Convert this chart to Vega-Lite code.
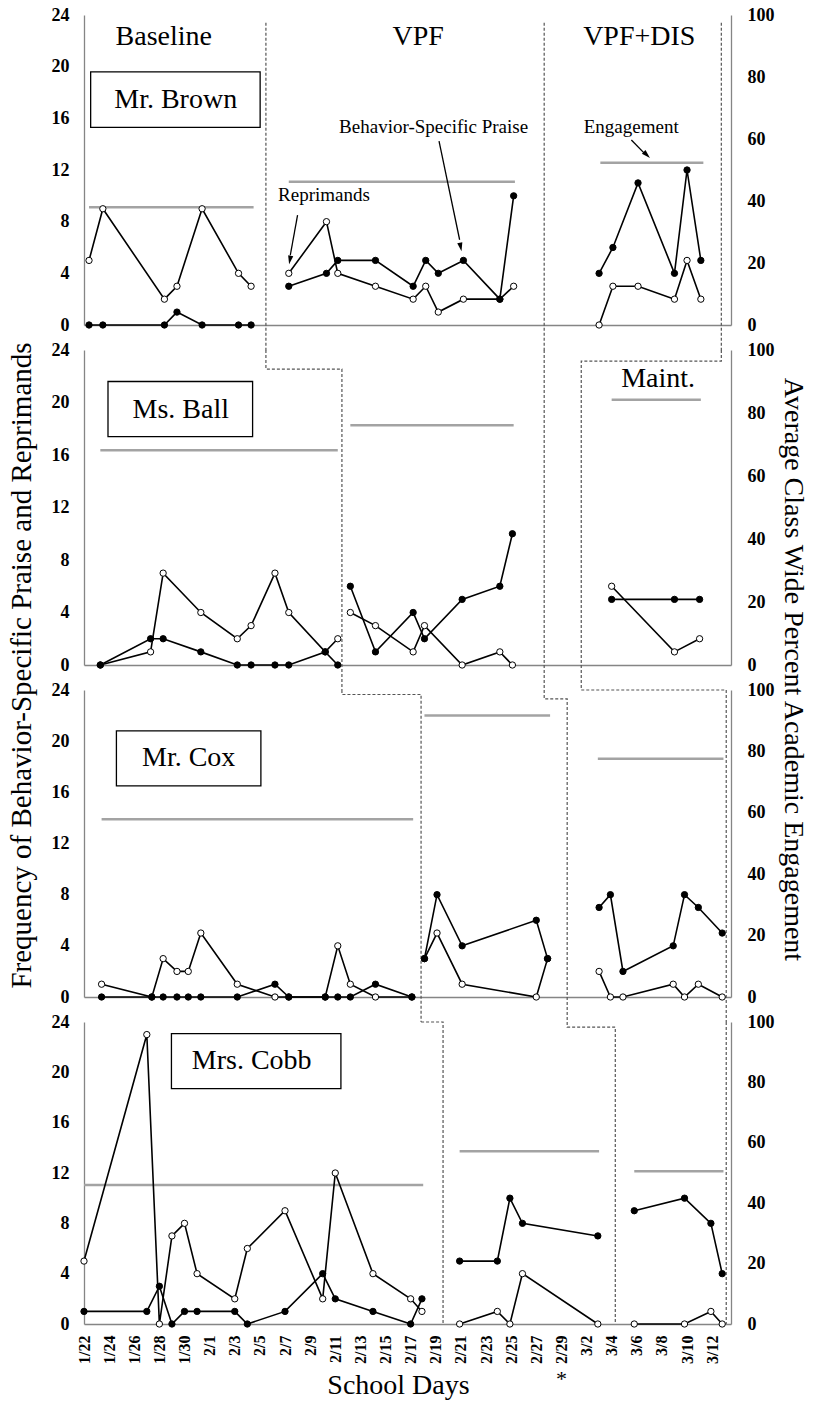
{
  "$schema": "https://vega.github.io/schema/vega-lite/v6.json",
  "background": "white",
  "padding": {"left": 6, "top": 6, "right": 4, "bottom": 0},
  "bounds": "flush",
  "spacing": 25,
  "config": {
    "view": {"stroke": null},
    "axis": {"grid": false, "ticks": false, "domainColor": "#858585", "domainWidth": 1.3, "labelFont": "Liberation Serif", "labelFontWeight": "bold", "labelColor": "black", "labelFontSize": 18, "titleFont": "Liberation Serif", "titleFontWeight": "normal", "titleColor": "black", "labelOverlap": false},
    "axisX": {"labels": false, "title": null, "labelOverlap": false, "labelAngle": -90, "labelFontSize": 16, "labelPadding": 11, "labelFlush": false, "values": [0,2,4,6,8,10,12,14,16,18,20,22,24,26,28,30,32,34,36,38,40,42,44,46,48,50], "labelExpr": "['1/22','1/24','1/26','1/28','1/30','2/1','2/3','2/5','2/7','2/9','2/11','2/13','2/15','2/17','2/19','2/21','2/23','2/25','2/27','2/29','3/2','3/4','3/6','3/8','3/10','3/12'][round(datum.value/2)]"},
    "text": {"font": "Liberation Serif", "color": "black"}
  },
  "datasets": {
    "pts": [
      {"t":"Brown","p":"BL","s":"R","d":0.4,"v":5},{"t":"Brown","p":"BL","s":"R","d":1.5,"v":9},{"t":"Brown","p":"BL","s":"R","d":6.4,"v":2},{"t":"Brown","p":"BL","s":"R","d":7.4,"v":3},{"t":"Brown","p":"BL","s":"R","d":9.4,"v":9},{"t":"Brown","p":"BL","s":"R","d":12.3,"v":4},{"t":"Brown","p":"BL","s":"R","d":13.3,"v":3},
      {"t":"Brown","p":"BL","s":"B","d":0.4,"v":0},{"t":"Brown","p":"BL","s":"B","d":1.5,"v":0},{"t":"Brown","p":"BL","s":"B","d":6.4,"v":0},{"t":"Brown","p":"BL","s":"B","d":7.4,"v":1},{"t":"Brown","p":"BL","s":"B","d":9.4,"v":0},{"t":"Brown","p":"BL","s":"B","d":12.3,"v":0},{"t":"Brown","p":"BL","s":"B","d":13.3,"v":0},
      {"t":"Brown","p":"VPF","s":"R","d":16.3,"v":4},{"t":"Brown","p":"VPF","s":"R","d":19.3,"v":8},{"t":"Brown","p":"VPF","s":"R","d":20.2,"v":4},{"t":"Brown","p":"VPF","s":"R","d":23.2,"v":3},{"t":"Brown","p":"VPF","s":"R","d":26.2,"v":2},{"t":"Brown","p":"VPF","s":"R","d":27.2,"v":3},{"t":"Brown","p":"VPF","s":"R","d":28.2,"v":1},{"t":"Brown","p":"VPF","s":"R","d":30.2,"v":2},{"t":"Brown","p":"VPF","s":"R","d":33.1,"v":2},{"t":"Brown","p":"VPF","s":"R","d":34.2,"v":3},
      {"t":"Brown","p":"VPF","s":"B","d":16.3,"v":3},{"t":"Brown","p":"VPF","s":"B","d":19.3,"v":4},{"t":"Brown","p":"VPF","s":"B","d":20.2,"v":5},{"t":"Brown","p":"VPF","s":"B","d":23.2,"v":5},{"t":"Brown","p":"VPF","s":"B","d":26.2,"v":3},{"t":"Brown","p":"VPF","s":"B","d":27.2,"v":5},{"t":"Brown","p":"VPF","s":"B","d":28.2,"v":4},{"t":"Brown","p":"VPF","s":"B","d":30.2,"v":5},{"t":"Brown","p":"VPF","s":"B","d":33.1,"v":2},{"t":"Brown","p":"VPF","s":"B","d":34.2,"v":10},
      {"t":"Brown","p":"DIS","s":"R","d":41.0,"v":0},{"t":"Brown","p":"DIS","s":"R","d":42.1,"v":3},{"t":"Brown","p":"DIS","s":"R","d":44.1,"v":3},{"t":"Brown","p":"DIS","s":"R","d":47.0,"v":2},{"t":"Brown","p":"DIS","s":"R","d":48.0,"v":5},{"t":"Brown","p":"DIS","s":"R","d":49.1,"v":2},
      {"t":"Brown","p":"DIS","s":"B","d":41.0,"v":4},{"t":"Brown","p":"DIS","s":"B","d":42.1,"v":6},{"t":"Brown","p":"DIS","s":"B","d":44.1,"v":11},{"t":"Brown","p":"DIS","s":"B","d":47.0,"v":4},{"t":"Brown","p":"DIS","s":"B","d":48.0,"v":12},{"t":"Brown","p":"DIS","s":"B","d":49.1,"v":5},
      {"t":"Ball","p":"BL","s":"R","d":1.3,"v":0},{"t":"Ball","p":"BL","s":"R","d":5.3,"v":1},{"t":"Ball","p":"BL","s":"R","d":6.3,"v":7},{"t":"Ball","p":"BL","s":"R","d":9.3,"v":4},{"t":"Ball","p":"BL","s":"R","d":12.2,"v":2},{"t":"Ball","p":"BL","s":"R","d":13.3,"v":3},{"t":"Ball","p":"BL","s":"R","d":15.2,"v":7},{"t":"Ball","p":"BL","s":"R","d":16.3,"v":4},{"t":"Ball","p":"BL","s":"R","d":19.2,"v":1},{"t":"Ball","p":"BL","s":"R","d":20.2,"v":2},
      {"t":"Ball","p":"BL","s":"B","d":1.3,"v":0},{"t":"Ball","p":"BL","s":"B","d":5.3,"v":2},{"t":"Ball","p":"BL","s":"B","d":6.3,"v":2},{"t":"Ball","p":"BL","s":"B","d":9.3,"v":1},{"t":"Ball","p":"BL","s":"B","d":12.2,"v":0},{"t":"Ball","p":"BL","s":"B","d":13.3,"v":0},{"t":"Ball","p":"BL","s":"B","d":15.2,"v":0},{"t":"Ball","p":"BL","s":"B","d":16.3,"v":0},{"t":"Ball","p":"BL","s":"B","d":19.2,"v":1},{"t":"Ball","p":"BL","s":"B","d":20.2,"v":0},
      {"t":"Ball","p":"VPF","s":"R","d":21.2,"v":4},{"t":"Ball","p":"VPF","s":"R","d":23.2,"v":3},{"t":"Ball","p":"VPF","s":"R","d":26.2,"v":1},{"t":"Ball","p":"VPF","s":"R","d":27.1,"v":3},{"t":"Ball","p":"VPF","s":"R","d":30.1,"v":0},{"t":"Ball","p":"VPF","s":"R","d":33.1,"v":1},{"t":"Ball","p":"VPF","s":"R","d":34.1,"v":0},
      {"t":"Ball","p":"VPF","s":"B","d":21.2,"v":6},{"t":"Ball","p":"VPF","s":"B","d":23.2,"v":1},{"t":"Ball","p":"VPF","s":"B","d":26.2,"v":4},{"t":"Ball","p":"VPF","s":"B","d":27.1,"v":2},{"t":"Ball","p":"VPF","s":"B","d":30.1,"v":5},{"t":"Ball","p":"VPF","s":"B","d":33.1,"v":6},{"t":"Ball","p":"VPF","s":"B","d":34.1,"v":10},
      {"t":"Ball","p":"MA","s":"R","d":42.0,"v":6},{"t":"Ball","p":"MA","s":"R","d":47.0,"v":1},{"t":"Ball","p":"MA","s":"R","d":49.0,"v":2},
      {"t":"Ball","p":"MA","s":"B","d":42.0,"v":5},{"t":"Ball","p":"MA","s":"B","d":47.0,"v":5},{"t":"Ball","p":"MA","s":"B","d":49.0,"v":5},
      {"t":"Cox","p":"BL","s":"R","d":1.4,"v":1},{"t":"Cox","p":"BL","s":"R","d":5.4,"v":0},{"t":"Cox","p":"BL","s":"R","d":6.3,"v":3},{"t":"Cox","p":"BL","s":"R","d":7.4,"v":2},{"t":"Cox","p":"BL","s":"R","d":8.3,"v":2},{"t":"Cox","p":"BL","s":"R","d":9.3,"v":5},{"t":"Cox","p":"BL","s":"R","d":12.2,"v":1},{"t":"Cox","p":"BL","s":"R","d":15.2,"v":0},{"t":"Cox","p":"BL","s":"R","d":16.3,"v":0},{"t":"Cox","p":"BL","s":"R","d":19.2,"v":0},{"t":"Cox","p":"BL","s":"R","d":20.2,"v":4},{"t":"Cox","p":"BL","s":"R","d":21.2,"v":1},{"t":"Cox","p":"BL","s":"R","d":23.2,"v":0},{"t":"Cox","p":"BL","s":"R","d":26.1,"v":0},
      {"t":"Cox","p":"BL","s":"B","d":1.4,"v":0},{"t":"Cox","p":"BL","s":"B","d":5.4,"v":0},{"t":"Cox","p":"BL","s":"B","d":6.3,"v":0},{"t":"Cox","p":"BL","s":"B","d":7.4,"v":0},{"t":"Cox","p":"BL","s":"B","d":8.3,"v":0},{"t":"Cox","p":"BL","s":"B","d":9.3,"v":0},{"t":"Cox","p":"BL","s":"B","d":12.2,"v":0},{"t":"Cox","p":"BL","s":"B","d":15.2,"v":1},{"t":"Cox","p":"BL","s":"B","d":16.3,"v":0},{"t":"Cox","p":"BL","s":"B","d":19.2,"v":0},{"t":"Cox","p":"BL","s":"B","d":20.2,"v":0},{"t":"Cox","p":"BL","s":"B","d":21.2,"v":0},{"t":"Cox","p":"BL","s":"B","d":23.2,"v":1},{"t":"Cox","p":"BL","s":"B","d":26.1,"v":0},
      {"t":"Cox","p":"VPF","s":"R","d":27.1,"v":3},{"t":"Cox","p":"VPF","s":"R","d":28.1,"v":5},{"t":"Cox","p":"VPF","s":"R","d":30.1,"v":1},{"t":"Cox","p":"VPF","s":"R","d":36.0,"v":0},{"t":"Cox","p":"VPF","s":"R","d":36.9,"v":3},
      {"t":"Cox","p":"VPF","s":"B","d":27.1,"v":3},{"t":"Cox","p":"VPF","s":"B","d":28.1,"v":8},{"t":"Cox","p":"VPF","s":"B","d":30.1,"v":4},{"t":"Cox","p":"VPF","s":"B","d":36.0,"v":6},{"t":"Cox","p":"VPF","s":"B","d":36.9,"v":3},
      {"t":"Cox","p":"DIS","s":"R","d":41.0,"v":2},{"t":"Cox","p":"DIS","s":"R","d":41.9,"v":0},{"t":"Cox","p":"DIS","s":"R","d":42.9,"v":0},{"t":"Cox","p":"DIS","s":"R","d":46.9,"v":1},{"t":"Cox","p":"DIS","s":"R","d":47.8,"v":0},{"t":"Cox","p":"DIS","s":"R","d":48.9,"v":1},{"t":"Cox","p":"DIS","s":"R","d":50.8,"v":0},
      {"t":"Cox","p":"DIS","s":"B","d":41.0,"v":7},{"t":"Cox","p":"DIS","s":"B","d":41.9,"v":8},{"t":"Cox","p":"DIS","s":"B","d":42.9,"v":2},{"t":"Cox","p":"DIS","s":"B","d":46.9,"v":4},{"t":"Cox","p":"DIS","s":"B","d":47.8,"v":8},{"t":"Cox","p":"DIS","s":"B","d":48.9,"v":7},{"t":"Cox","p":"DIS","s":"B","d":50.8,"v":5},
      {"t":"Cobb","p":"BL","s":"R","d":0,"v":5},{"t":"Cobb","p":"BL","s":"R","d":5,"v":23},{"t":"Cobb","p":"BL","s":"R","d":6,"v":0},{"t":"Cobb","p":"BL","s":"R","d":7,"v":7},{"t":"Cobb","p":"BL","s":"R","d":8,"v":8},{"t":"Cobb","p":"BL","s":"R","d":9,"v":4},{"t":"Cobb","p":"BL","s":"R","d":12,"v":2},{"t":"Cobb","p":"BL","s":"R","d":13,"v":6},{"t":"Cobb","p":"BL","s":"R","d":16,"v":9},{"t":"Cobb","p":"BL","s":"R","d":19,"v":2},{"t":"Cobb","p":"BL","s":"R","d":20,"v":12},{"t":"Cobb","p":"BL","s":"R","d":23,"v":4},{"t":"Cobb","p":"BL","s":"R","d":26,"v":2},{"t":"Cobb","p":"BL","s":"R","d":26.9,"v":1},
      {"t":"Cobb","p":"BL","s":"B","d":0,"v":1},{"t":"Cobb","p":"BL","s":"B","d":5,"v":1},{"t":"Cobb","p":"BL","s":"B","d":6,"v":3},{"t":"Cobb","p":"BL","s":"B","d":7,"v":0},{"t":"Cobb","p":"BL","s":"B","d":8,"v":1},{"t":"Cobb","p":"BL","s":"B","d":9,"v":1},{"t":"Cobb","p":"BL","s":"B","d":12,"v":1},{"t":"Cobb","p":"BL","s":"B","d":13,"v":0},{"t":"Cobb","p":"BL","s":"B","d":16,"v":1},{"t":"Cobb","p":"BL","s":"B","d":19,"v":4},{"t":"Cobb","p":"BL","s":"B","d":20,"v":2},{"t":"Cobb","p":"BL","s":"B","d":23,"v":1},{"t":"Cobb","p":"BL","s":"B","d":26,"v":0},{"t":"Cobb","p":"BL","s":"B","d":26.9,"v":2},
      {"t":"Cobb","p":"VPF","s":"R","d":29.9,"v":0},{"t":"Cobb","p":"VPF","s":"R","d":32.9,"v":1},{"t":"Cobb","p":"VPF","s":"R","d":33.9,"v":0},{"t":"Cobb","p":"VPF","s":"R","d":34.9,"v":4},{"t":"Cobb","p":"VPF","s":"R","d":40.9,"v":0},
      {"t":"Cobb","p":"VPF","s":"B","d":29.9,"v":5},{"t":"Cobb","p":"VPF","s":"B","d":32.9,"v":5},{"t":"Cobb","p":"VPF","s":"B","d":33.9,"v":10},{"t":"Cobb","p":"VPF","s":"B","d":34.9,"v":8},{"t":"Cobb","p":"VPF","s":"B","d":40.9,"v":7},
      {"t":"Cobb","p":"DIS","s":"R","d":43.8,"v":0},{"t":"Cobb","p":"DIS","s":"R","d":47.8,"v":0},{"t":"Cobb","p":"DIS","s":"R","d":49.9,"v":1},{"t":"Cobb","p":"DIS","s":"R","d":50.8,"v":0},
      {"t":"Cobb","p":"DIS","s":"B","d":43.8,"v":9},{"t":"Cobb","p":"DIS","s":"B","d":47.8,"v":10},{"t":"Cobb","p":"DIS","s":"B","d":49.9,"v":8},{"t":"Cobb","p":"DIS","s":"B","d":50.8,"v":4}
    ],
    "eng": [
      {"t":"Brown","d1":0.4,"d2":13.5,"e":38},{"t":"Brown","d1":16.3,"d2":34.3,"e":46.2},{"t":"Brown","d1":41.1,"d2":49.3,"e":52.3},
      {"t":"Ball","d1":1.3,"d2":20.2,"e":68.2},{"t":"Ball","d1":21.2,"d2":34.2,"e":76.1},{"t":"Ball","d1":42.0,"d2":49.1,"e":84.2},
      {"t":"Cox","d1":1.4,"d2":26.2,"e":57.9},{"t":"Cox","d1":27.1,"d2":37.1,"e":91.7},{"t":"Cox","d1":40.9,"d2":50.9,"e":77.6},
      {"t":"Cobb","d1":0,"d2":27,"e":46},{"t":"Cobb","d1":29.9,"d2":41,"e":57.2},{"t":"Cobb","d1":43.8,"d2":50.9,"e":50.6}
    ],
    "dash": [
      {"t":"Brown","id":"A","o":0,"d":14.48,"y":23.4},{"t":"Brown","id":"A","o":1,"d":14.48,"y":-1.95},
      {"t":"Brown","id":"B","o":0,"d":36.63,"y":23.4},{"t":"Brown","id":"B","o":1,"d":36.63,"y":-1.95},
      {"t":"Brown","id":"C","o":0,"d":50.73,"y":23.4},{"t":"Brown","id":"C","o":1,"d":50.73,"y":-1.95},
      {"t":"Ball","id":"A","o":0,"d":14.48,"y":24},{"t":"Ball","id":"A","o":1,"d":14.48,"y":22.55},{"t":"Ball","id":"A","o":2,"d":20.53,"y":22.55},{"t":"Ball","id":"A","o":3,"d":20.53,"y":-1.9},
      {"t":"Ball","id":"B","o":0,"d":36.63,"y":24},{"t":"Ball","id":"B","o":1,"d":36.63,"y":-1.9},
      {"t":"Ball","id":"C","o":0,"d":50.73,"y":24},{"t":"Ball","id":"C","o":1,"d":50.73,"y":23.16},{"t":"Ball","id":"C","o":2,"d":39.58,"y":23.16},{"t":"Ball","id":"C","o":3,"d":39.58,"y":-1.9},
      {"t":"Cox","id":"A","o":0,"d":20.53,"y":24},{"t":"Cox","id":"A","o":1,"d":20.53,"y":23.65},{"t":"Cox","id":"A","o":2,"d":26.83,"y":23.65},{"t":"Cox","id":"A","o":3,"d":26.83,"y":-1.95},
      {"t":"Cox","id":"B","o":0,"d":36.63,"y":24},{"t":"Cox","id":"B","o":1,"d":36.63,"y":23.3},{"t":"Cox","id":"B","o":2,"d":38.46,"y":23.3},{"t":"Cox","id":"B","o":3,"d":38.46,"y":-1.95},
      {"t":"Cox","id":"C","o":0,"d":39.58,"y":24},{"t":"Cox","id":"C","o":1,"d":51.12,"y":24},{"t":"Cox","id":"C","o":2,"d":51.12,"y":-1.95},
      {"t":"Cobb","id":"A","o":0,"d":26.83,"y":24},{"t":"Cobb","id":"A","o":1,"d":28.58,"y":24},{"t":"Cobb","id":"A","o":2,"d":28.58,"y":0},
      {"t":"Cobb","id":"B","o":0,"d":38.46,"y":24},{"t":"Cobb","id":"B","o":1,"d":38.46,"y":23.6},{"t":"Cobb","id":"B","o":2,"d":42.29,"y":23.6},{"t":"Cobb","id":"B","o":3,"d":42.29,"y":0},
      {"t":"Cobb","id":"C","o":0,"d":51.12,"y":24},{"t":"Cobb","id":"C","o":1,"d":51.12,"y":0}
    ],
    "box": [
      {"t":"Brown","d1":0.53,"d2":14.02,"y1":15.3,"y2":19.6},
      {"t":"Ball","d1":1.91,"d2":13.42,"y1":17.4,"y2":21.6},
      {"t":"Cox","d1":2.58,"d2":14.08,"y1":16.5,"y2":20.8},
      {"t":"Cobb","d1":6.96,"d2":20.45,"y1":18.7,"y2":23.07}
    ],
    "ann": [
      {"t":"Brown","k":"big","txt":"Baseline","d":6.35,"y":22.3},
      {"t":"Brown","k":"big","txt":"VPF","d":26.6,"y":22.3},
      {"t":"Brown","k":"big","txt":"VPF+DIS","d":44.2,"y":22.3},
      {"t":"Brown","k":"big","txt":"Mr. Brown","d":7.3,"y":17.4},
      {"t":"Ball","k":"big","txt":"Ms. Ball","d":7.7,"y":19.4},
      {"t":"Ball","k":"big","txt":"Maint.","d":45.7,"y":21.8},
      {"t":"Cox","k":"big","txt":"Mr. Cox","d":8.33,"y":18.66},
      {"t":"Cobb","k":"big","txt":"Mrs. Cobb","d":13.35,"y":20.9},
      {"t":"Brown","k":"note","txt":"Reprimands","d":19.1,"y":10.06},
      {"t":"Brown","k":"note","txt":"Behavior-Specific Praise","d":27.83,"y":15.33},
      {"t":"Brown","k":"note","txt":"Engagement","d":43.56,"y":15.33},
      {"t":"Cobb","k":"star","txt":"*","d":38,"y":-4.37}
    ],
    "arr": [
      {"id":"r","o":0,"d":17.0,"y":8.51},{"id":"r","o":1,"d":16.42,"y":5.4},
      {"id":"b","o":0,"d":28.26,"y":14.24},{"id":"b","o":1,"d":29.9,"y":6.6},
      {"id":"e","o":0,"d":43.57,"y":14.32},{"id":"e","o":1,"d":44.65,"y":13.25}
    ],
    "head": [
      {"id":"r","d":16.39,"y":5.03},
      {"id":"b","d":29.98,"y":6.04},
      {"id":"e","d":44.8,"y":13.17}
    ]
  },
  "vconcat": [
    {
      "width": 647, "height": 310,
      "resolve": {"scale": {"y": "independent"}},
      "layer": [
        {"data": {"name": "eng"}, "transform": [{"filter": "datum.t === 'Brown'"}],
         "mark": {"type": "rule", "color": "#a3a3a3", "strokeWidth": 2.5},
         "encoding": {
           "x": {"field": "d1", "type": "quantitative", "title": null, "scale": {"domain": [0, 51.5], "nice": false, "zero": false}},
           "x2": {"field": "d2"},
           "y": {"field": "e", "type": "quantitative", "scale": {"domain": [0, 100]}, "axis": {"orient": "right", "values": [0,20,40,60,80,100], "labelPadding": 16, "title": null}}}},
        {"data": {"name": "dash"}, "transform": [{"filter": "datum.t === 'Brown'"}],
         "mark": {"type": "line", "color": "#555555", "strokeWidth": 1.2, "strokeDash": [3, 2]},
         "encoding": {
           "x": {"field": "d", "type": "quantitative", "title": null, "scale": {"domain": [0, 51.5], "nice": false, "zero": false}},
           "y": {"field": "y", "type": "quantitative", "scale": {"domain": [0, 24]}, "axis": null},
           "detail": {"field": "id"}, "order": {"field": "o"}}},
        {"data": {"name": "box"}, "transform": [{"filter": "datum.t === 'Brown'"}],
         "mark": {"type": "rect", "fill": "white", "stroke": "black", "strokeWidth": 1.3},
         "encoding": {
           "x": {"field": "d1", "type": "quantitative", "title": null, "scale": {"domain": [0, 51.5], "nice": false, "zero": false}},
           "x2": {"field": "d2"},
           "y": {"field": "y1", "type": "quantitative", "scale": {"domain": [0, 24]}, "axis": null},
           "y2": {"field": "y2"}}},
        {"data": {"name": "ann"}, "transform": [{"filter": "datum.t === 'Brown' && datum.k === 'big'"}],
         "mark": {"type": "text", "fontSize": 28, "align": "center", "baseline": "middle"},
         "encoding": {
           "x": {"field": "d", "type": "quantitative", "title": null, "scale": {"domain": [0, 51.5], "nice": false, "zero": false}},
           "y": {"field": "y", "type": "quantitative", "scale": {"domain": [0, 24]}, "axis": null},
           "text": {"field": "txt"}}},
        {"data": {"name": "ann"}, "transform": [{"filter": "datum.t === 'Brown' && datum.k === 'note'"}],
         "mark": {"type": "text", "fontSize": 19, "align": "center", "baseline": "middle"},
         "encoding": {
           "x": {"field": "d", "type": "quantitative", "title": null, "scale": {"domain": [0, 51.5], "nice": false, "zero": false}},
           "y": {"field": "y", "type": "quantitative", "scale": {"domain": [0, 24]}, "axis": null},
           "text": {"field": "txt"}}},
        {"data": {"name": "arr"},
         "mark": {"type": "line", "color": "black", "strokeWidth": 1.3},
         "encoding": {
           "x": {"field": "d", "type": "quantitative", "title": null, "scale": {"domain": [0, 51.5], "nice": false, "zero": false}},
           "y": {"field": "y", "type": "quantitative", "scale": {"domain": [0, 24]}, "axis": null},
           "detail": {"field": "id"}, "order": {"field": "o"}}},
        {"data": {"name": "head"}, "transform": [{"filter": "datum.id === 'r'"}],
         "mark": {"type": "point", "shape": "M-0.3,-0.5L0.3,-0.5L0,0.5Z", "filled": true, "color": "black", "opacity": 1, "size": 300, "angle": 10.7},
         "encoding": {
           "x": {"field": "d", "type": "quantitative", "title": null, "scale": {"domain": [0, 51.5], "nice": false, "zero": false}},
           "y": {"field": "y", "type": "quantitative", "scale": {"domain": [0, 24]}, "axis": null}}},
        {"data": {"name": "head"}, "transform": [{"filter": "datum.id === 'b'"}],
         "mark": {"type": "point", "shape": "M-0.3,-0.5L0.3,-0.5L0,0.5Z", "filled": true, "color": "black", "opacity": 1, "size": 300, "angle": 348.6},
         "encoding": {
           "x": {"field": "d", "type": "quantitative", "title": null, "scale": {"domain": [0, 51.5], "nice": false, "zero": false}},
           "y": {"field": "y", "type": "quantitative", "scale": {"domain": [0, 24]}, "axis": null}}},
        {"data": {"name": "head"}, "transform": [{"filter": "datum.id === 'e'"}],
         "mark": {"type": "point", "shape": "M-0.3,-0.5L0.3,-0.5L0,0.5Z", "filled": true, "color": "black", "opacity": 1, "size": 300, "angle": 313.7},
         "encoding": {
           "x": {"field": "d", "type": "quantitative", "title": null, "scale": {"domain": [0, 51.5], "nice": false, "zero": false}},
           "y": {"field": "y", "type": "quantitative", "scale": {"domain": [0, 24]}, "axis": null}}},
        {"data": {"name": "pts"}, "transform": [{"filter": "datum.t === 'Brown'"}],
         "mark": {"type": "line", "color": "black", "strokeWidth": 1.6},
         "encoding": {
           "x": {"field": "d", "type": "quantitative", "title": null, "scale": {"domain": [0, 51.5], "nice": false, "zero": false}},
           "y": {"field": "v", "type": "quantitative", "scale": {"domain": [0, 24]}, "axis": {"orient": "left", "values": [0,4,8,12,16,20,24], "labelPadding": 15, "title": null}},
           "detail": [{"field": "p"}, {"field": "s"}]}},
        {"data": {"name": "pts"}, "transform": [{"filter": "datum.t === 'Brown'"}],
         "mark": {"type": "point", "shape": "circle", "filled": true, "size": 40, "stroke": "black", "strokeWidth": 1, "opacity": 1},
         "encoding": {
           "x": {"field": "d", "type": "quantitative", "title": null, "scale": {"domain": [0, 51.5], "nice": false, "zero": false}},
           "y": {"field": "v", "type": "quantitative", "scale": {"domain": [0, 24]}, "axis": null},
           "fill": {"field": "s", "type": "nominal", "scale": {"domain": ["B", "R"], "range": ["black", "white"]}, "legend": null}}}
      ]
    },
    {
      "width": 647, "height": 315,
      "resolve": {"scale": {"y": "independent"}},
      "layer": [
        {"data": {"name": "eng"}, "transform": [{"filter": "datum.t === 'Ball'"}],
         "mark": {"type": "rule", "color": "#a3a3a3", "strokeWidth": 2.5},
         "encoding": {
           "x": {"field": "d1", "type": "quantitative", "title": null, "scale": {"domain": [0, 51.5], "nice": false, "zero": false}},
           "x2": {"field": "d2"},
           "y": {"field": "e", "type": "quantitative", "scale": {"domain": [0, 100]}, "axis": {"orient": "right", "values": [0,20,40,60,80,100], "labelPadding": 16, "title": "Average Class Wide Percent Academic Engagement", "titleFontSize": 28, "titleAngle": 90, "titleX": 61, "titleY": 319, "titleAlign": "center", "titleBaseline": "middle"}}}},
        {"data": {"name": "dash"}, "transform": [{"filter": "datum.t === 'Ball'"}],
         "mark": {"type": "line", "color": "#555555", "strokeWidth": 1.2, "strokeDash": [3, 2]},
         "encoding": {
           "x": {"field": "d", "type": "quantitative", "title": null, "scale": {"domain": [0, 51.5], "nice": false, "zero": false}},
           "y": {"field": "y", "type": "quantitative", "scale": {"domain": [0, 24]}, "axis": null},
           "detail": {"field": "id"}, "order": {"field": "o"}}},
        {"data": {"name": "box"}, "transform": [{"filter": "datum.t === 'Ball'"}],
         "mark": {"type": "rect", "fill": "white", "stroke": "black", "strokeWidth": 1.3},
         "encoding": {
           "x": {"field": "d1", "type": "quantitative", "title": null, "scale": {"domain": [0, 51.5], "nice": false, "zero": false}},
           "x2": {"field": "d2"},
           "y": {"field": "y1", "type": "quantitative", "scale": {"domain": [0, 24]}, "axis": null},
           "y2": {"field": "y2"}}},
        {"data": {"name": "ann"}, "transform": [{"filter": "datum.t === 'Ball' && datum.k === 'big'"}],
         "mark": {"type": "text", "fontSize": 28, "align": "center", "baseline": "middle"},
         "encoding": {
           "x": {"field": "d", "type": "quantitative", "title": null, "scale": {"domain": [0, 51.5], "nice": false, "zero": false}},
           "y": {"field": "y", "type": "quantitative", "scale": {"domain": [0, 24]}, "axis": null},
           "text": {"field": "txt"}}},
        {"data": {"name": "pts"}, "transform": [{"filter": "datum.t === 'Ball'"}],
         "mark": {"type": "line", "color": "black", "strokeWidth": 1.6},
         "encoding": {
           "x": {"field": "d", "type": "quantitative", "title": null, "scale": {"domain": [0, 51.5], "nice": false, "zero": false}},
           "y": {"field": "v", "type": "quantitative", "scale": {"domain": [0, 24]}, "axis": {"orient": "left", "values": [0,4,8,12,16,20,24], "labelPadding": 15, "title": "Frequency of Behavior-Specific Praise and Reprimands", "titleFontSize": 29, "titleAngle": 270, "titleX": -63, "titleY": 315, "titleAlign": "center", "titleBaseline": "middle"}},
           "detail": [{"field": "p"}, {"field": "s"}]}},
        {"data": {"name": "pts"}, "transform": [{"filter": "datum.t === 'Ball'"}],
         "mark": {"type": "point", "shape": "circle", "filled": true, "size": 40, "stroke": "black", "strokeWidth": 1, "opacity": 1},
         "encoding": {
           "x": {"field": "d", "type": "quantitative", "title": null, "scale": {"domain": [0, 51.5], "nice": false, "zero": false}},
           "y": {"field": "v", "type": "quantitative", "scale": {"domain": [0, 24]}, "axis": null},
           "fill": {"field": "s", "type": "nominal", "scale": {"domain": ["B", "R"], "range": ["black", "white"]}, "legend": null}}}
      ]
    },
    {
      "width": 647, "height": 307,
      "resolve": {"scale": {"y": "independent"}},
      "layer": [
        {"data": {"name": "eng"}, "transform": [{"filter": "datum.t === 'Cox'"}],
         "mark": {"type": "rule", "color": "#a3a3a3", "strokeWidth": 2.5},
         "encoding": {
           "x": {"field": "d1", "type": "quantitative", "title": null, "scale": {"domain": [0, 51.5], "nice": false, "zero": false}},
           "x2": {"field": "d2"},
           "y": {"field": "e", "type": "quantitative", "scale": {"domain": [0, 100]}, "axis": {"orient": "right", "values": [0,20,40,60,80,100], "labelPadding": 16, "title": null}}}},
        {"data": {"name": "dash"}, "transform": [{"filter": "datum.t === 'Cox'"}],
         "mark": {"type": "line", "color": "#555555", "strokeWidth": 1.2, "strokeDash": [3, 2]},
         "encoding": {
           "x": {"field": "d", "type": "quantitative", "title": null, "scale": {"domain": [0, 51.5], "nice": false, "zero": false}},
           "y": {"field": "y", "type": "quantitative", "scale": {"domain": [0, 24]}, "axis": null},
           "detail": {"field": "id"}, "order": {"field": "o"}}},
        {"data": {"name": "box"}, "transform": [{"filter": "datum.t === 'Cox'"}],
         "mark": {"type": "rect", "fill": "white", "stroke": "black", "strokeWidth": 1.3},
         "encoding": {
           "x": {"field": "d1", "type": "quantitative", "title": null, "scale": {"domain": [0, 51.5], "nice": false, "zero": false}},
           "x2": {"field": "d2"},
           "y": {"field": "y1", "type": "quantitative", "scale": {"domain": [0, 24]}, "axis": null},
           "y2": {"field": "y2"}}},
        {"data": {"name": "ann"}, "transform": [{"filter": "datum.t === 'Cox' && datum.k === 'big'"}],
         "mark": {"type": "text", "fontSize": 28, "align": "center", "baseline": "middle"},
         "encoding": {
           "x": {"field": "d", "type": "quantitative", "title": null, "scale": {"domain": [0, 51.5], "nice": false, "zero": false}},
           "y": {"field": "y", "type": "quantitative", "scale": {"domain": [0, 24]}, "axis": null},
           "text": {"field": "txt"}}},
        {"data": {"name": "pts"}, "transform": [{"filter": "datum.t === 'Cox'"}],
         "mark": {"type": "line", "color": "black", "strokeWidth": 1.6},
         "encoding": {
           "x": {"field": "d", "type": "quantitative", "title": null, "scale": {"domain": [0, 51.5], "nice": false, "zero": false}},
           "y": {"field": "v", "type": "quantitative", "scale": {"domain": [0, 24]}, "axis": {"orient": "left", "values": [0,4,8,12,16,20,24], "labelPadding": 15, "title": null}},
           "detail": [{"field": "p"}, {"field": "s"}]}},
        {"data": {"name": "pts"}, "transform": [{"filter": "datum.t === 'Cox'"}],
         "mark": {"type": "point", "shape": "circle", "filled": true, "size": 40, "stroke": "black", "strokeWidth": 1, "opacity": 1},
         "encoding": {
           "x": {"field": "d", "type": "quantitative", "title": null, "scale": {"domain": [0, 51.5], "nice": false, "zero": false}},
           "y": {"field": "v", "type": "quantitative", "scale": {"domain": [0, 24]}, "axis": null},
           "fill": {"field": "s", "type": "nominal", "scale": {"domain": ["B", "R"], "range": ["black", "white"]}, "legend": null}}}
      ]
    },
    {
      "width": 647, "height": 302,
      "resolve": {"scale": {"y": "independent"}},
      "layer": [
        {"data": {"name": "eng"}, "transform": [{"filter": "datum.t === 'Cobb'"}],
         "mark": {"type": "rule", "color": "#a3a3a3", "strokeWidth": 2.5},
         "encoding": {
           "x": {"field": "d1", "type": "quantitative", "scale": {"domain": [0, 51.5], "nice": false, "zero": false},
                 "axis": {"labels": true, "labelOverlap": false, "title": "School Days", "titleFontSize": 28, "titlePadding": 8, "titleX": 314, "titleAlign": "center"}},
           "x2": {"field": "d2"},
           "y": {"field": "e", "type": "quantitative", "scale": {"domain": [0, 100]}, "axis": {"orient": "right", "values": [0,20,40,60,80,100], "labelPadding": 16, "title": null}}}},
        {"data": {"name": "dash"}, "transform": [{"filter": "datum.t === 'Cobb'"}],
         "mark": {"type": "line", "color": "#555555", "strokeWidth": 1.2, "strokeDash": [3, 2]},
         "encoding": {
           "x": {"field": "d", "type": "quantitative", "scale": {"domain": [0, 51.5], "nice": false, "zero": false}, "axis": {"labels": true, "labelOverlap": false}},
           "y": {"field": "y", "type": "quantitative", "scale": {"domain": [0, 24]}, "axis": null},
           "detail": {"field": "id"}, "order": {"field": "o"}}},
        {"data": {"name": "box"}, "transform": [{"filter": "datum.t === 'Cobb'"}],
         "mark": {"type": "rect", "fill": "white", "stroke": "black", "strokeWidth": 1.3},
         "encoding": {
           "x": {"field": "d1", "type": "quantitative", "scale": {"domain": [0, 51.5], "nice": false, "zero": false}, "axis": {"labels": true, "labelOverlap": false}},
           "x2": {"field": "d2"},
           "y": {"field": "y1", "type": "quantitative", "scale": {"domain": [0, 24]}, "axis": null},
           "y2": {"field": "y2"}}},
        {"data": {"name": "ann"}, "transform": [{"filter": "datum.t === 'Cobb' && datum.k === 'big'"}],
         "mark": {"type": "text", "fontSize": 28, "align": "center", "baseline": "middle"},
         "encoding": {
           "x": {"field": "d", "type": "quantitative", "scale": {"domain": [0, 51.5], "nice": false, "zero": false}, "axis": {"labels": true, "labelOverlap": false}},
           "y": {"field": "y", "type": "quantitative", "scale": {"domain": [0, 24]}, "axis": null},
           "text": {"field": "txt"}}},
        {"data": {"name": "ann"}, "transform": [{"filter": "datum.t === 'Cobb' && datum.k === 'star'"}],
         "mark": {"type": "text", "fontSize": 22, "align": "center", "baseline": "middle"},
         "encoding": {
           "x": {"field": "d", "type": "quantitative", "scale": {"domain": [0, 51.5], "nice": false, "zero": false}, "axis": {"labels": true, "labelOverlap": false}},
           "y": {"field": "y", "type": "quantitative", "scale": {"domain": [0, 24]}, "axis": null},
           "text": {"field": "txt"}}},
        {"data": {"name": "pts"}, "transform": [{"filter": "datum.t === 'Cobb'"}],
         "mark": {"type": "line", "color": "black", "strokeWidth": 1.6},
         "encoding": {
           "x": {"field": "d", "type": "quantitative", "scale": {"domain": [0, 51.5], "nice": false, "zero": false}, "axis": {"labels": true, "labelOverlap": false}},
           "y": {"field": "v", "type": "quantitative", "scale": {"domain": [0, 24]}, "axis": {"orient": "left", "values": [0,4,8,12,16,20,24], "labelPadding": 15, "title": null}},
           "detail": [{"field": "p"}, {"field": "s"}]}},
        {"data": {"name": "pts"}, "transform": [{"filter": "datum.t === 'Cobb'"}],
         "mark": {"type": "point", "shape": "circle", "filled": true, "size": 40, "stroke": "black", "strokeWidth": 1, "opacity": 1},
         "encoding": {
           "x": {"field": "d", "type": "quantitative", "scale": {"domain": [0, 51.5], "nice": false, "zero": false}, "axis": {"labels": true, "labelOverlap": false}},
           "y": {"field": "v", "type": "quantitative", "scale": {"domain": [0, 24]}, "axis": null},
           "fill": {"field": "s", "type": "nominal", "scale": {"domain": ["B", "R"], "range": ["black", "white"]}, "legend": null}}}
      ]
    }
  ]
}
